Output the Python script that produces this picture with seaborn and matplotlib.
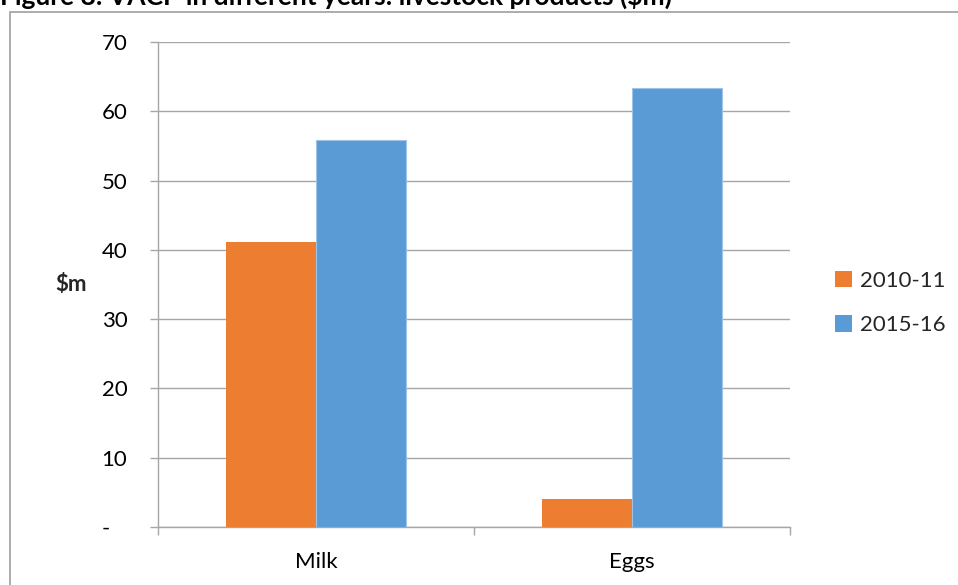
import matplotlib
matplotlib.use("Agg")
import matplotlib.pyplot as plt
import matplotlib.patches as mpatches
import seaborn as sns
import pandas as pd

# Livestock product values ($m)
categories = ["Milk", "Eggs"]
years = ["2010-11", "2015-16"]
values_2010_11 = [41.1, 4.0]
values_2015_16 = [55.8, 63.4]
y_ticks = [0, 10, 20, 30, 40, 50, 60, 70]
y_tick_labels = ["-   ", "10", "20", "30", "40", "50", "60", "70"]
colors = ["#ED7D31", "#5B9BD5"]

df = pd.DataFrame({
    "product": categories * 2,
    "year": [years[0]] * len(categories) + [years[1]] * len(categories),
    "value": values_2010_11 + values_2015_16,
})

sns.set_theme(style="white")
plt.rcParams["font.family"] = ["Lato", "DejaVu Sans"]

W, H = 958, 585
FS = 16
fig = plt.figure(figsize=(W / 100, H / 100), dpi=100)
fig.patch.set_facecolor("white")

# outer chart frame (runs off the right and bottom edges)
frame = mpatches.Rectangle((10 / W, -0.1), 1.2, 1 - 12 / H + 0.1,
                           transform=fig.transFigure, fill=False,
                           edgecolor="#a6a6a6", linewidth=1.3, zorder=0)
fig.patches.append(frame)

# title, partly cut off at the top
fig.text(0 / W, 1 - 5 / H, "Figure 8: VACP in different years: livestock products ($m)",
         fontsize=19, fontweight="bold", ha="left", va="baseline", color="black")

ax = fig.add_axes([158 / W, 58 / H, 632 / W, 485 / H])
sns.barplot(data=df, x="product", y="value", hue="year", order=categories,
            hue_order=years, palette=colors, width=0.57, saturation=1,
            linewidth=0, ax=ax, zorder=3)

# thin light outline on the blue bars
for patch in ax.containers[1]:
    patch.set_edgecolor("#9DC3E6")
    patch.set_linewidth(0.8)

ax.set_xlim(-0.5, 1.5)
ax.set_ylim(0, 70)
ax.set_yticks(y_ticks)
ax.set_yticklabels(y_tick_labels)
ax.yaxis.grid(True, color="#a6a6a6", linewidth=1.0, zorder=0)
ax.set_axisbelow(True)

for side in ["top", "right"]:
    ax.spines[side].set_visible(False)
for side in ["left", "bottom"]:
    ax.spines[side].set_color("#a6a6a6")
    ax.spines[side].set_linewidth(1.0)

ax.tick_params(axis="y", which="major", length=6, width=1.0, color="#a6a6a6",
               pad=16, labelsize=FS, labelcolor="black", left=True)
ax.tick_params(axis="x", which="major", length=0, pad=18, labelsize=FS,
               labelcolor="black")
# category boundary ticks
ax.set_xticks([-0.5, 0.5, 1.5], minor=True)
ax.tick_params(axis="x", which="minor", length=6, width=1.0, color="#a6a6a6",
               bottom=True, direction="out")

ax.set_xlabel("")
ax.set_ylabel("$m", fontsize=FS, fontweight="bold", rotation=0,
              va="center", ha="center")
ax.yaxis.set_label_coords((71 - 158) / 632, 0.5)

handles, labels = ax.get_legend_handles_labels()
ax.legend(handles, labels, loc="center left",
          bbox_to_anchor=(826 / W, 1 - 303 / H), bbox_transform=fig.transFigure,
          frameon=False, fontsize=FS, handlelength=0.75, handleheight=0.75,
          handletextpad=0.4, labelspacing=1.1, borderaxespad=0)

fig.savefig("out.png", dpi=100, facecolor="white")
